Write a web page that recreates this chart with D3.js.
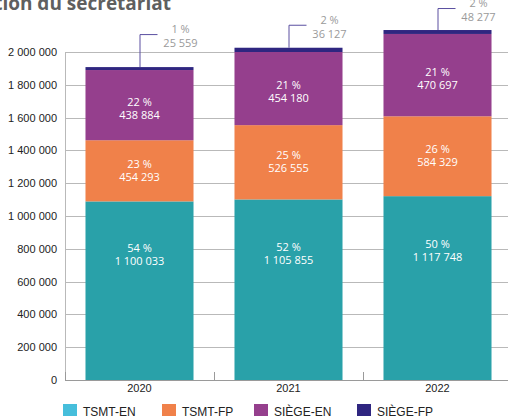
<!DOCTYPE html>
<html>
<head>
<meta charset="utf-8">
<script src="https://cdn.jsdelivr.net/npm/d3@7"></script>
<style>
html, body { margin: 0; padding: 0; background: #fff; }
svg { display: block; }
</style>
</head>
<body>
<svg id="mainSvg" width="508" height="416"></svg>
<script>
var years = ["2020", "2021", "2022"];
var seriesNames = ["TSMT-EN", "TSMT-FP", "SIÈGE-EN", "SIÈGE-FP"];

// printed figures
var tsmtEn = [1100033, 1105855, 1117748];
var tsmtFp = [454293, 526555, 584329];
var siegeEn = [438884, 454180, 470697];
var siegeFp = [25559, 36127, 48277];

// heights of the segments as drawn in the picture (the source is not to scale)
var tsmtEnBar = [1089000, 1101000, 1121000];
var tsmtFpBar = [373000, 453000, 487000];
var siegeEnBar = [428000, 446000, 502000];
var siegeFpBar = [18000, 26000, 24000];

var yTicks = [0, 200000, 400000, 600000, 800000, 1000000, 1200000, 1400000, 1600000, 1800000, 2000000];

var barColors = ["#29a1a9", "#f0814a", "#953f8d", "#2f2680"];
var legendColors = ["#46bedb", "#f0814a", "#953f8d", "#2f2680"];
var labelFrac = [0.3, 0.5, 0.55]; // where the inside label sits in each segment
var calloutLift = [33, 23, 22];

var fr = d3.formatLocale({decimal: ",", thousands: "\u00a0", grouping: [3], currency: ["", ""]});
var fmt = fr.format(",d");

var svg = d3.select("#mainSvg");

var x = d3.scaleBand().domain(years).range([65, 512]).paddingInner(0.275).paddingOuter(0.1375);
var y = d3.scaleLinear().domain([0, 2000000]).range([380, 52]);

// cut title
svg.append("text").attr("x", 171).attr("y", 10).attr("text-anchor", "end")
	.attr("font-family", "Open Sans").attr("font-weight", "bold").attr("font-size", 19)
	.attr("fill", "#5f5f5f").text("tion du secrétariat");

// grid
svg.append("g").selectAll("line").data(yTicks.slice(1)).enter().append("line")
	.attr("x1", 65).attr("x2", 508)
	.attr("y1", function(d) { return Math.round(y(d)) + 0.5; })
	.attr("y2", function(d) { return Math.round(y(d)) + 0.5; })
	.attr("stroke", "#b9b9b9").attr("stroke-width", 1);

svg.append("line").attr("x1", 65.5).attr("x2", 65.5).attr("y1", 52).attr("y2", 380)
	.attr("stroke", "#b9b9b9");

// y labels
svg.append("g").selectAll("text").data(yTicks).enter().append("text")
	.attr("x", 57).attr("y", function(d) { return y(d) + 4; })
	.attr("text-anchor", "end").attr("font-family", "Liberation Sans").attr("font-size", 11)
	.attr("fill", "#222").text(function(d) { return fmt(d); });

// stacks
var rows = years.map(function(yr, i) {
	return {year: yr, i: i, vals: [tsmtEnBar[i], tsmtFpBar[i], siegeEnBar[i], siegeFpBar[i]],
		printed: [tsmtEn[i], tsmtFp[i], siegeEn[i], siegeFp[i]]};
});

rows.forEach(function(r) {
	var total = d3.sum(r.printed);
	var base = 0;
	r.segs = r.vals.map(function(v, k) {
		var s = {k: k, y0: base, y1: base + v, value: r.printed[k], pct: Math.round(100 * r.printed[k] / total)};
		base += v;
		return s;
	});
});

var bars = svg.append("g").selectAll("g").data(rows).enter().append("g");

bars.selectAll("rect").data(function(r) { return r.segs.map(function(s) { s.year = r.year; return s; }); })
	.enter().append("rect")
	.attr("x", function(d) { return x(d.year); })
	.attr("width", x.bandwidth())
	.attr("y", function(d) { return y(d.y1); })
	.attr("height", function(d) { return y(d.y0) - y(d.y1); })
	.attr("fill", function(d) { return barColors[d.k]; });

function twoLines(g, cx, y1, y2, a, b, col)
{
	g.append("text").attr("x", cx).attr("y", y1).attr("text-anchor", "middle")
		.attr("font-family", "Open Sans").attr("font-size", 11).attr("fill", col).text(a);
	g.append("text").attr("x", cx).attr("y", y2).attr("text-anchor", "middle")
		.attr("font-family", "Open Sans").attr("font-size", 11).attr("fill", col).text(b);
}

// inside labels
bars.each(function(r) {
	var g = d3.select(this);
	var cx = x(r.year) + x.bandwidth() / 2;
	r.segs.slice(0, 3).forEach(function(s) {
		var top = y(s.y1), bot = y(s.y0);
		var cy = top + (bot - top) * labelFrac[s.k];
		twoLines(g, cx, cy - 3, cy + 10, s.pct + "\u00a0%", fmt(s.value), "#fff");
	});

	// callout for the thin top segment
	var s = r.segs[3];
	var topY = y(s.y1);
	var elbow = topY - calloutLift[r.i];
	g.append("path")
		.attr("d", "M" + (cx + 0.5) + "," + topY + "V" + (elbow + 0.5) + "H" + (cx + 18))
		.attr("fill", "none").attr("stroke", "#5a4fa0").attr("stroke-width", 1);
	twoLines(g, cx + 41, elbow - 1, elbow + 13, s.pct + "\u00a0%", fmt(s.value), "#9a9a9a");
});

// x axis
svg.append("line").attr("x1", 65).attr("x2", 508).attr("y1", 380.5).attr("y2", 380.5).attr("stroke", "#9a9a9a");
svg.append("g").selectAll("line").data(years).enter().append("line")
	.attr("x1", function(d) { return Math.round(x(d) - x.step() * x.paddingInner() / 2) + 0.5; })
	.attr("x2", function(d) { return Math.round(x(d) - x.step() * x.paddingInner() / 2) + 0.5; })
	.attr("y1", 372).attr("y2", 380)
	.attr("stroke", "#9a9a9a");
svg.append("g").selectAll("text").data(years).enter().append("text")
	.attr("x", function(d) { return x(d) + x.bandwidth() / 2; })
	.attr("y", 392).attr("text-anchor", "middle")
	.attr("font-family", "Liberation Sans").attr("font-size", 11).attr("fill", "#222")
	.text(function(d) { return d; });

// legend
var legX = [63, 162, 254, 357];
var leg = svg.append("g").selectAll("g").data(seriesNames).enter().append("g")
	.attr("transform", function(d, i) { return "translate(" + legX[i] + ",404)"; });
leg.append("rect").attr("width", 14).attr("height", 14)
	.attr("fill", function(d, i) { return legendColors[i]; });
leg.append("text").attr("x", 20).attr("y", 11.5)
	.attr("font-family", "Liberation Sans").attr("font-size", 12).attr("fill", "#222")
	.text(function(d) { return d; });
</script>
</body>
</html>
